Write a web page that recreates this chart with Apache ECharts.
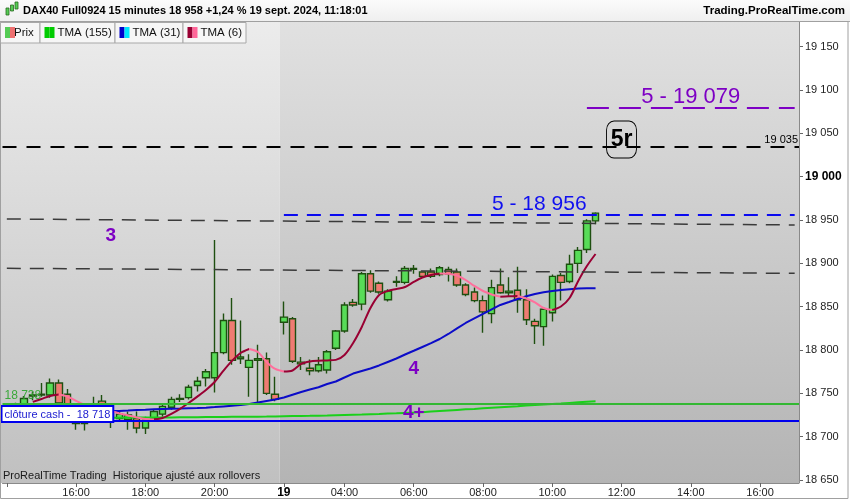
<!DOCTYPE html>
<html><head><meta charset="utf-8">
<script src="https://cdn.jsdelivr.net/npm/echarts@6/dist/echarts.min.js"></script>
<style>html,body{margin:0;padding:0;background:#fff}#c{width:850px;height:500px}</style>
</head><body><div id="c"></div>
<script>
// ---------- data ----------
const day18Times = ['14:00','14:15','14:30','14:45','15:00','15:15','15:30','15:45','16:00','16:15','16:30','16:45','17:00','17:15','17:30','17:45','18:00','18:15','18:30','18:45','19:00','19:15','19:30','19:45','20:00','20:15','20:30','20:45','21:00','21:15','21:30','21:45'];
const day19Times = ['02:15','02:30','02:45','03:00','03:15','03:30','03:45','04:00','04:15','04:30','04:45','05:00','05:15','05:30','05:45','06:00','06:15','06:30','06:45','07:00','07:15','07:30','07:45','08:00','08:15','08:30','08:45','09:00','09:15','09:30','09:45','10:00','10:15','10:30','10:45','11:00','11:15','11:30','11:45','12:00','12:15','12:30','12:45','13:00','13:15','13:30','13:45','14:00','14:15','14:30','14:45','15:00','15:15','15:30','15:45','16:00','16:15','16:30','16:45','17:00'];
const timeTicks = ['18 14:00','18 16:00','18 18:00','18 20:00','19 02:15','19 04:00','19 06:00','19 08:00','19 10:00','19 12:00','19 14:00','19 16:00'];

const opens  = [18728,18735,18737,18747,18748,18748,18762,18749,18727,18715,18724,18741,18728,18721,18720,18721,18710,18721,18726,18734,18743,18745,18759,18768,18768,18797,18834,18790,18780,18788,18790,18749,18832,18836,18786,18779,18776,18777,18802,18822,18855,18853,18888,18877,18858,18878,18878,18893,18890,18890,18887,18893,18890,18875,18867,18857,18842,18875,18866,18869,18858,18833,18827,18843,18886,18879,18900,18916,18949];
const closes = [18735,18732,18744,18748,18749,18762,18739,18726,18715,18724,18738,18728,18722,18726,18725,18710,18719,18729,18735,18743,18744,18757,18764,18775,18797,18834,18788,18792,18788,18790,18750,18743,18838,18787,18784,18776,18783,18798,18822,18852,18852,18888,18868,18867,18868,18879,18894,18894,18885,18885,18895,18888,18875,18864,18857,18844,18872,18866,18868,18858,18835,18828,18847,18885,18878,18899,18915,18949,18958];
const lows   = [18722,18726,18733,18742,18746,18745,18733,18718,18708,18707,18720,18722,18710,18718,18708,18704,18703,18718,18723,18731,18740,18743,18752,18758,18751,18795,18783,18784,18746,18740,18748,18741,18818,18785,18777,18771,18774,18773,18800,18820,18850,18846,18866,18865,18856,18873,18876,18888,18883,18883,18885,18879,18873,18862,18855,18820,18831,18865,18862,18843,18829,18807,18805,18833,18857,18877,18889,18912,18945];
const highs  = [18738,18739,18747,18752,18762,18767,18766,18755,18730,18728,18746,18748,18735,18729,18729,18729,18723,18731,18738,18746,18749,18760,18769,18778,18927,18842,18860,18834,18795,18806,18797,18769,18856,18838,18792,18789,18792,18800,18823,18855,18859,18890,18892,18879,18870,18885,18897,18898,18891,18894,18897,18896,18894,18877,18872,18863,18881,18894,18884,18896,18870,18836,18849,18887,18889,18910,18919,18951,18959];

const tma6 = [null,null,null,18740.1,18743.5,18747,18748.7,18746.4,18741.2,18736.6,18733.1,18731.4,18729.7,18726.8,18724.5,18722.2,18720.4,18719.9,18721.6,18726.2,18732,18738.9,18746.2,18753.9,18763.1,18775.8,18787.4,18796.6,18801.2,18797.7,18786.2,18778.1,18775.2,18776.4,18784,18786.8,18787.7,18788,18788.6,18794.3,18808.1,18826.6,18848.5,18863.5,18868.1,18870.4,18872.7,18878.5,18883.7,18886.6,18888.3,18888.0,18886,18880.8,18873.9,18868.1,18864.1,18861.6,18862.0,18862.3,18859.5,18854.9,18848.5,18846.2,18850.2,18860,18879.7,18896.9,18910.8];
const tma31 = [18726.5,18726.8,18727,18727.3,18727.6,18727.9,18728.2,18728.5,18728.7,18728.9,18729.1,18729.3,18729.5,18729.7,18730.2,18730.9,18731.2,18731.6,18732,18732.3,18732.5,18732.9,18733.1,18733.5,18734.1,18734.9,18735.7,18736.6,18737.7,18739.5,18741.2,18742.9,18745.2,18748.4,18751.6,18754.5,18757,18760.8,18763.7,18768.3,18772.8,18775.8,18778.7,18782.2,18786.2,18790.2,18794.8,18799.1,18803.5,18807.9,18812.7,18818.5,18824.9,18831.2,18836.4,18841.6,18846.8,18852,18855.4,18858.9,18862,18864.7,18866.6,18868.1,18869.3,18870.2,18870.9,18871.2,18871.2];
const tma155 = [18721.3,18721.3,18721.4,18721.4,18721.5,18721.5,18721.6,18721.6,18721.7,18721.7,18721.8,18721.8,18721.9,18721.9,18722,18722,18722.1,18722.1,18722.2,18722.2,18722.3,18722.4,18722.5,18722.6,18722.7,18722.8,18722.9,18723,18723,18723.1,18723.2,18723.4,18723.6,18723.8,18723.9,18724,18724.2,18724.4,18724.7,18725,18725.3,18725.6,18726,18726.3,18726.7,18727,18727.4,18727.8,18728.3,18729,18729.7,18730.3,18730.9,18731.5,18732,18732.7,18733.4,18734,18734.6,18735.2,18735.9,18736.5,18737.1,18737.6,18738.2,18738.9,18739.6,18740.3,18741];

const levelGreen = 18738, levelCash = 18718, level5r = 19035, level5 = 18956, level5b = 19079, lastPrice = 18958;
const trendUpper = [18951.2, 18944.3];
const trendLower = [18894.3, 18888.5];
const yTicks = {min: 18650, max: 19150, step: 50};

// ---------- build ----------
const categories = day18Times.map(t => '18 ' + t).concat(day19Times.map(t => '19 ' + t));
const candles = opens.map((o, i) => [o, closes[i], lows[i], highs[i]]);
const lastIdx = categories.length - 1;
const FONT = "'Liberation Sans', Arial, sans-serif";

function runs(vals) {
  const out = []; let dir = null, start = null;
  for (let i = 1; i < vals.length; i++) {
    if (vals[i] == null || vals[i - 1] == null) continue;
    const d = vals[i] >= vals[i - 1] ? 'up' : 'down';
    if (d !== dir) { if (dir) out.push({dir, from: start, to: i - 1}); dir = d; start = i - 1; }
  }
  out.push({dir, from: start, to: vals.length - 1});
  return out;
}
const tma6Series = runs(tma6).map(r => ({
  type: 'line', data: tma6.map((v, i) => (i >= r.from && i <= r.to) ? v : null),
  symbol: 'none', smooth: 0.3, silent: true, animation: false, z: 4,
  lineStyle: {color: r.dir === 'up' ? '#990033' : '#ff6f9c', width: 2}
}));

function fmt(v) { const s = String(Math.round(v)); return s.slice(0, s.length - 3) + ' ' + s.slice(-3); }

const chart = echarts.init(document.getElementById('c'));
const option = {
  animation: false,
  backgroundColor: '#ffffff',
  textStyle: {fontFamily: FONT},
  grid: {left: 2.5, right: 51, top: 46.7, bottom: 20},
  xAxis: {
    type: 'category', data: categories, boundaryGap: true, offset: 3,
    axisLine: {show: true, lineStyle: {color: '#8a8a8a', width: 1}},
    axisTick: {show: true, alignWithLabel: true, length: 4, lineStyle: {color: '#666'},
               interval: (i, v) => timeTicks.includes(v)},
    axisLabel: {interval: (i, v) => timeTicks.includes(v), fontSize: 11, color: '#222', margin: 4,
      formatter: v => v === '18 14:00' ? '' : (v === '19 02:15' ? '{b|19}' : v.slice(3)),
      rich: {b: {fontWeight: 'bold', fontSize: 12, color: '#000'}}},
    splitLine: {show: false}
  },
  yAxis: {
    type: 'value', position: 'right', min: yTicks.min, max: yTicks.max, interval: yTicks.step, scale: true,
    axisLine: {show: false},
    axisTick: {show: true, length: 4, lineStyle: {color: '#666'}},
    axisLabel: {fontSize: 11, color: '#222', margin: 6,
      formatter: v => v === 19000 ? '{b|' + fmt(v) + '}' : fmt(v),
      rich: {b: {fontWeight: 'bold', fontSize: 12, color: '#000'}}},
    splitLine: {show: false}
  },
  series: [
    {
      type: 'line', name: 'TMA (155)', data: tma155, symbol: 'none', silent: true, z: 3,
      lineStyle: {color: '#1ad01a', width: 2},
      markLine: {
        symbol: 'none', silent: true, animation: false, z: 6,
        data: [
          {yAxis: levelGreen, lineStyle: {color: '#33b833', width: 2, type: 'solid'},
           label: {show: true, position: 'insideStartTop', formatter: fmt(levelGreen), color: '#3aa83a', fontSize: 12, distance: 2}},
          {yAxis: levelCash, lineStyle: {color: '#0000ee', width: 2, type: 'solid'},
           label: {show: true, position: 'insideStartTop', formatter: 'clôture cash -  ' + fmt(levelCash), color: '#1a1ad0', fontSize: 11,
                   backgroundColor: '#ffffff', borderColor: '#0000ee', borderWidth: 2, padding: [2, 2, 1, 2], distance: 0}},
          {yAxis: level5r, lineStyle: {color: '#000', width: 2, type: [14, 10]},
           label: {show: true, position: 'insideEndTop', formatter: fmt(level5r), color: '#000', fontSize: 11, distance: 1}},
          [{coord: [0, trendUpper[0]], lineStyle: {color: '#3a3a3a', width: 1.5, type: [14, 9]}, label: {show: false}},
           {coord: [lastIdx, trendUpper[1]]}],
          [{coord: [0, trendLower[0]], lineStyle: {color: '#3a3a3a', width: 1.5, type: [14, 9]}, label: {show: false}},
           {coord: [lastIdx, trendLower[1]]}],
          [{coord: ['19 02:15', level5], lineStyle: {color: '#0a0af0', width: 2, type: [14, 9]},
            label: {show: true, position: 'insideMiddleTop', formatter: '5 - ' + fmt(level5), color: '#1010f0', fontSize: 21, distance: 0}},
           {coord: [lastIdx, level5]}],
          [{coord: ['19 11:00', level5b], lineStyle: {color: '#7d00c4', width: 2, type: [22, 10]},
            label: {show: true, position: 'insideMiddleTop', formatter: '5 - ' + fmt(level5b), color: '#7d00c4', fontSize: 22, distance: 0}},
           {coord: [lastIdx, level5b]}],
          {yAxis: lastPrice, lineStyle: {opacity: 0},
           label: {show: true, position: 'end', formatter: fmt(lastPrice), color: '#000', fontSize: 11,
                   backgroundColor: '#ffcc00', borderColor: '#bbbbbb', borderWidth: 1, padding: [2, 3, 1, 3], distance: 1}}
        ]
      },
      markPoint: {
        silent: true, animation: false,
        data: [
          {coord: ['18 17:00', 18931.6], symbol: 'rect', symbolSize: 1, itemStyle: {color: 'rgba(0,0,0,0)'},
           label: {show: true, position: 'inside', formatter: '3', color: '#7d00c4', fontSize: 19, fontWeight: 'bold'}},
          {coord: ['19 06:00', 18778.1], symbol: 'rect', symbolSize: 1, itemStyle: {color: 'rgba(0,0,0,0)'},
           label: {show: true, position: 'inside', formatter: '4', color: '#7d00c4', fontSize: 19, fontWeight: 'bold'}},
          {coord: ['19 06:00', 18727.4], symbol: 'rect', symbolSize: 1, itemStyle: {color: 'rgba(0,0,0,0)'},
           label: {show: true, position: 'inside', formatter: '4+', color: '#7d00c4', fontSize: 19, fontWeight: 'bold'}},
          {coord: ['19 12:00', 19042.9], symbol: 'roundRect', symbolSize: [30, 37],
           itemStyle: {color: 'rgba(0,0,0,0)', borderColor: '#000', borderWidth: 1},
           label: {show: true, position: 'inside', formatter: '5r', color: '#000', fontSize: 23, fontWeight: 'bold'}}
        ]
      }
    },
    {
      type: 'line', name: 'TMA (31)', data: tma31, symbol: 'none', silent: true, z: 3,
      lineStyle: {color: '#0c0cc8', width: 2}
    },
    {
      type: 'candlestick', name: 'Prix', data: candles, barWidth: 7, z: 2,
      itemStyle: {color: '#58dc58', color0: '#ef7b72', borderColor: '#1e4f10', borderColor0: '#1e4f10', borderWidth: 1.4}
    }
  ].concat(tma6Series)
};
chart.setOption(option);

// ---------- frame, header, legend, backgrounds ----------
const band = chart.getModel().getComponent('xAxis', 0).axis.getBandWidth();
const xDay = chart.convertToPixel({xAxisIndex: 0}, '19 02:15') - band / 2;
const gRight = 799, gTop = 21, gBottom = 483;
function grad(c1, c2) { return new echarts.graphic.LinearGradient(0, 0, 0, 1, [{offset: 0, color: c1}, {offset: 1, color: c2}]); }
const graphics = [
  {type: 'rect', z: -10, silent: true, shape: {x: 0, y: gTop, width: xDay, height: gBottom - gTop}, style: {fill: grad('#ececec', '#c0c0c0')}},
  {type: 'rect', z: -10, silent: true, shape: {x: xDay, y: gTop, width: gRight - xDay, height: gBottom - gTop}, style: {fill: grad('#e1e1e1', '#b4b4b4')}},
  {type: 'rect', z: -9, silent: true, shape: {x: 0, y: 0, width: 850, height: gTop}, style: {fill: grad('#fbfbfb', '#efefef')}},
  {type: 'line', z: 20, silent: true, shape: {x1: 0, y1: gTop + 0.5, x2: 850, y2: gTop + 0.5}, style: {stroke: '#a8a8a8', lineWidth: 1}},
  {type: 'line', z: 20, silent: true, shape: {x1: gRight + 0.5, y1: gTop, x2: gRight + 0.5, y2: gBottom}, style: {stroke: '#8a8a8a', lineWidth: 1}},
  {type: 'rect', z: 20, silent: true, shape: {x: 0.5, y: gTop + 0.5, width: 847.5, height: 477}, style: {fill: null, stroke: '#a0a0a0', lineWidth: 1}},
  // title
  {type: 'rect', z: 20, silent: true, shape: {x: 6, y: 8, width: 3, height: 7}, style: {fill: '#55cc55', stroke: '#2a6a20', lineWidth: 0.8}},
  {type: 'rect', z: 20, silent: true, shape: {x: 10.5, y: 5, width: 3, height: 6}, style: {fill: '#55cc55', stroke: '#2a6a20', lineWidth: 0.8}},
  {type: 'rect', z: 20, silent: true, shape: {x: 15, y: 2, width: 3, height: 7}, style: {fill: '#55cc55', stroke: '#2a6a20', lineWidth: 0.8}},
  {type: 'text', z: 20, silent: true, style: {x: 23, y: 11, text: 'DAX40 Full0924 15 minutes 18 958 +1,24 % 19 sept. 2024, 11:18:01',
    font: "bold 11px " + FONT, fill: '#000', verticalAlign: 'middle'}},
  {type: 'text', z: 20, silent: true, style: {x: 845, y: 11, text: 'Trading.ProRealTime.com', font: "bold 11.5px " + FONT, fill: '#000',
    align: 'right', verticalAlign: 'middle'}},
  {type: 'text', z: 20, silent: true, style: {x: 3, y: 476, text: 'ProRealTime Trading  Historique ajusté aux rollovers', font: "11px " + FONT, fill: '#1a1a1a', verticalAlign: 'middle'}}
];
const legendItems = [
  {x: 0, w: 39.5, text: 'Prix', c1: '#55cc55', c2: '#ee7070'},
  {x: 39.5, w: 75, text: 'TMA (155)', c1: '#00cc00', c2: '#00cc00'},
  {x: 114.5, w: 68, text: 'TMA (31)', c1: '#0000cc', c2: '#00e5ff'},
  {x: 182.5, w: 63, text: 'TMA (6)', c1: '#990033', c2: '#ff6699'}
];
legendItems.forEach(it => {
  graphics.push({type: 'rect', z: 20, silent: true, shape: {x: it.x + 0.5, y: 22.5, width: it.w, height: 20.5}, style: {fill: '#f6f6f6', stroke: '#a8a8a8', lineWidth: 1}});
  graphics.push({type: 'text', z: 21, silent: true, style: {x: it.x + (it.text === 'Prix' ? 14 : 18), y: 33, text: it.text, font: "11.5px " + FONT, fill: '#111', verticalAlign: 'middle'}});
  graphics.push({type: 'rect', z: 22, silent: true, shape: {x: it.x + 5, y: 27, width: 5, height: 11}, style: {fill: it.c1}});
  graphics.push({type: 'rect', z: 22, silent: true, shape: {x: it.x + 10, y: 27, width: 5, height: 11}, style: {fill: it.c2}});
});
chart.setOption({graphic: graphics});
</script></body></html>
